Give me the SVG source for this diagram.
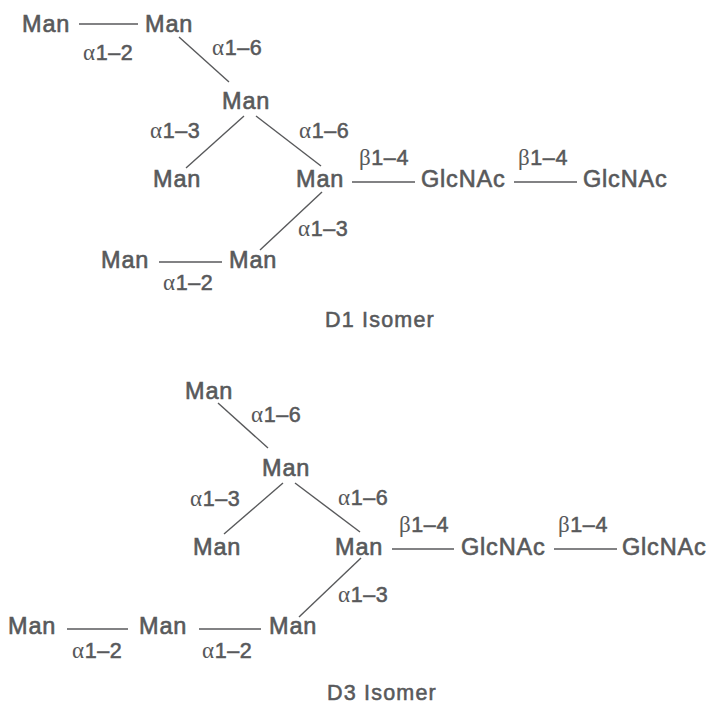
<svg xmlns="http://www.w3.org/2000/svg" width="711" height="704" viewBox="0 0 711 704">
<style>
.n{font-family:"Liberation Sans",Arial,sans-serif;font-size:23.5px;letter-spacing:0.8px;fill:#58595b;stroke:#58595b;stroke-width:0.6}
.l{font-family:"Liberation Sans",Arial,sans-serif;font-size:21.5px;letter-spacing:0.6px;fill:#58595b;stroke:#58595b;stroke-width:0.55}
.g{font-family:"Liberation Serif","Times New Roman",serif;font-size:23px;stroke-width:0}
.t{font-family:"Liberation Sans",Arial,sans-serif;font-size:21.5px;letter-spacing:1.2px;fill:#58595b;stroke:#58595b;stroke-width:0.55}
.c line{stroke:#58595b;stroke-width:1.4}
</style>
<rect width="711" height="704" fill="#fff"/>
<g id="connectors" class="c">
<line x1="79" y1="24" x2="138" y2="24"/>
<line x1="179" y1="37" x2="229" y2="82"/>
<line x1="244" y1="116" x2="186" y2="168"/>
<line x1="256" y1="116" x2="321" y2="166"/>
<line x1="352" y1="182" x2="415" y2="182"/>
<line x1="514" y1="182" x2="577" y2="182"/>
<line x1="322" y1="192" x2="260" y2="250"/>
<line x1="159" y1="262" x2="222" y2="262"/>
<line x1="218" y1="403" x2="268" y2="448"/>
<line x1="283" y1="483" x2="224" y2="534"/>
<line x1="295" y1="483" x2="360" y2="532"/>
<line x1="392" y1="549" x2="454" y2="549"/>
<line x1="554" y1="549" x2="617" y2="549"/>
<line x1="361" y1="558" x2="299" y2="617"/>
<line x1="67" y1="629" x2="128" y2="629"/>
<line x1="199" y1="629" x2="261" y2="629"/>
</g>
<g id="d1">
<g id="d1-man1"><text class="n" x="22" y="32">Man</text></g>
<g id="d1-man2"><text class="n" x="145" y="32">Man</text></g>
<g id="d1-man3"><text class="n" x="222" y="109">Man</text></g>
<g id="d1-man4"><text class="n" x="153" y="187">Man</text></g>
<g id="d1-man5"><text class="n" x="296" y="187">Man</text></g>
<g id="d1-glc1"><text class="n" x="421" y="187">GlcNAc</text></g>
<g id="d1-glc2"><text class="n" x="583" y="187">GlcNAc</text></g>
<g id="d1-man6"><text class="n" x="229" y="268">Man</text></g>
<g id="d1-man7"><text class="n" x="101" y="268">Man</text></g>
<g id="d1-labels">
<text class="l" x="83" y="60"><tspan class="g">α</tspan>1–2</text>
<text class="l" x="212" y="55"><tspan class="g">α</tspan>1–6</text>
<text class="l" x="150" y="138"><tspan class="g">α</tspan>1–3</text>
<text class="l" x="299" y="138"><tspan class="g">α</tspan>1–6</text>
<text class="l" x="359" y="165"><tspan class="g">β</tspan>1–4</text>
<text class="l" x="518" y="165"><tspan class="g">β</tspan>1–4</text>
<text class="l" x="298" y="236"><tspan class="g">α</tspan>1–3</text>
<text class="l" x="163" y="290"><tspan class="g">α</tspan>1–2</text>
</g>
<g id="d1-title"><text class="t" x="325" y="327">D1 Isomer</text></g>
</g>
<g id="d3">
<g id="d3-man1"><text class="n" x="185" y="399">Man</text></g>
<g id="d3-man2"><text class="n" x="262" y="476">Man</text></g>
<g id="d3-man3"><text class="n" x="193" y="555">Man</text></g>
<g id="d3-man4"><text class="n" x="335" y="555">Man</text></g>
<g id="d3-glc1"><text class="n" x="461" y="555">GlcNAc</text></g>
<g id="d3-glc2"><text class="n" x="622" y="555">GlcNAc</text></g>
<g id="d3-man5"><text class="n" x="8" y="634">Man</text></g>
<g id="d3-man6"><text class="n" x="139" y="634">Man</text></g>
<g id="d3-man7"><text class="n" x="269" y="634">Man</text></g>
<g id="d3-labels">
<text class="l" x="251" y="422"><tspan class="g">α</tspan>1–6</text>
<text class="l" x="190" y="506"><tspan class="g">α</tspan>1–3</text>
<text class="l" x="338" y="505"><tspan class="g">α</tspan>1–6</text>
<text class="l" x="399" y="532"><tspan class="g">β</tspan>1–4</text>
<text class="l" x="558" y="532"><tspan class="g">β</tspan>1–4</text>
<text class="l" x="338" y="602"><tspan class="g">α</tspan>1–3</text>
<text class="l" x="72" y="658"><tspan class="g">α</tspan>1–2</text>
<text class="l" x="202" y="658"><tspan class="g">α</tspan>1–2</text>
</g>
<g id="d3-title"><text class="t" x="327" y="700">D3 Isomer</text></g>
</g>
</svg>
